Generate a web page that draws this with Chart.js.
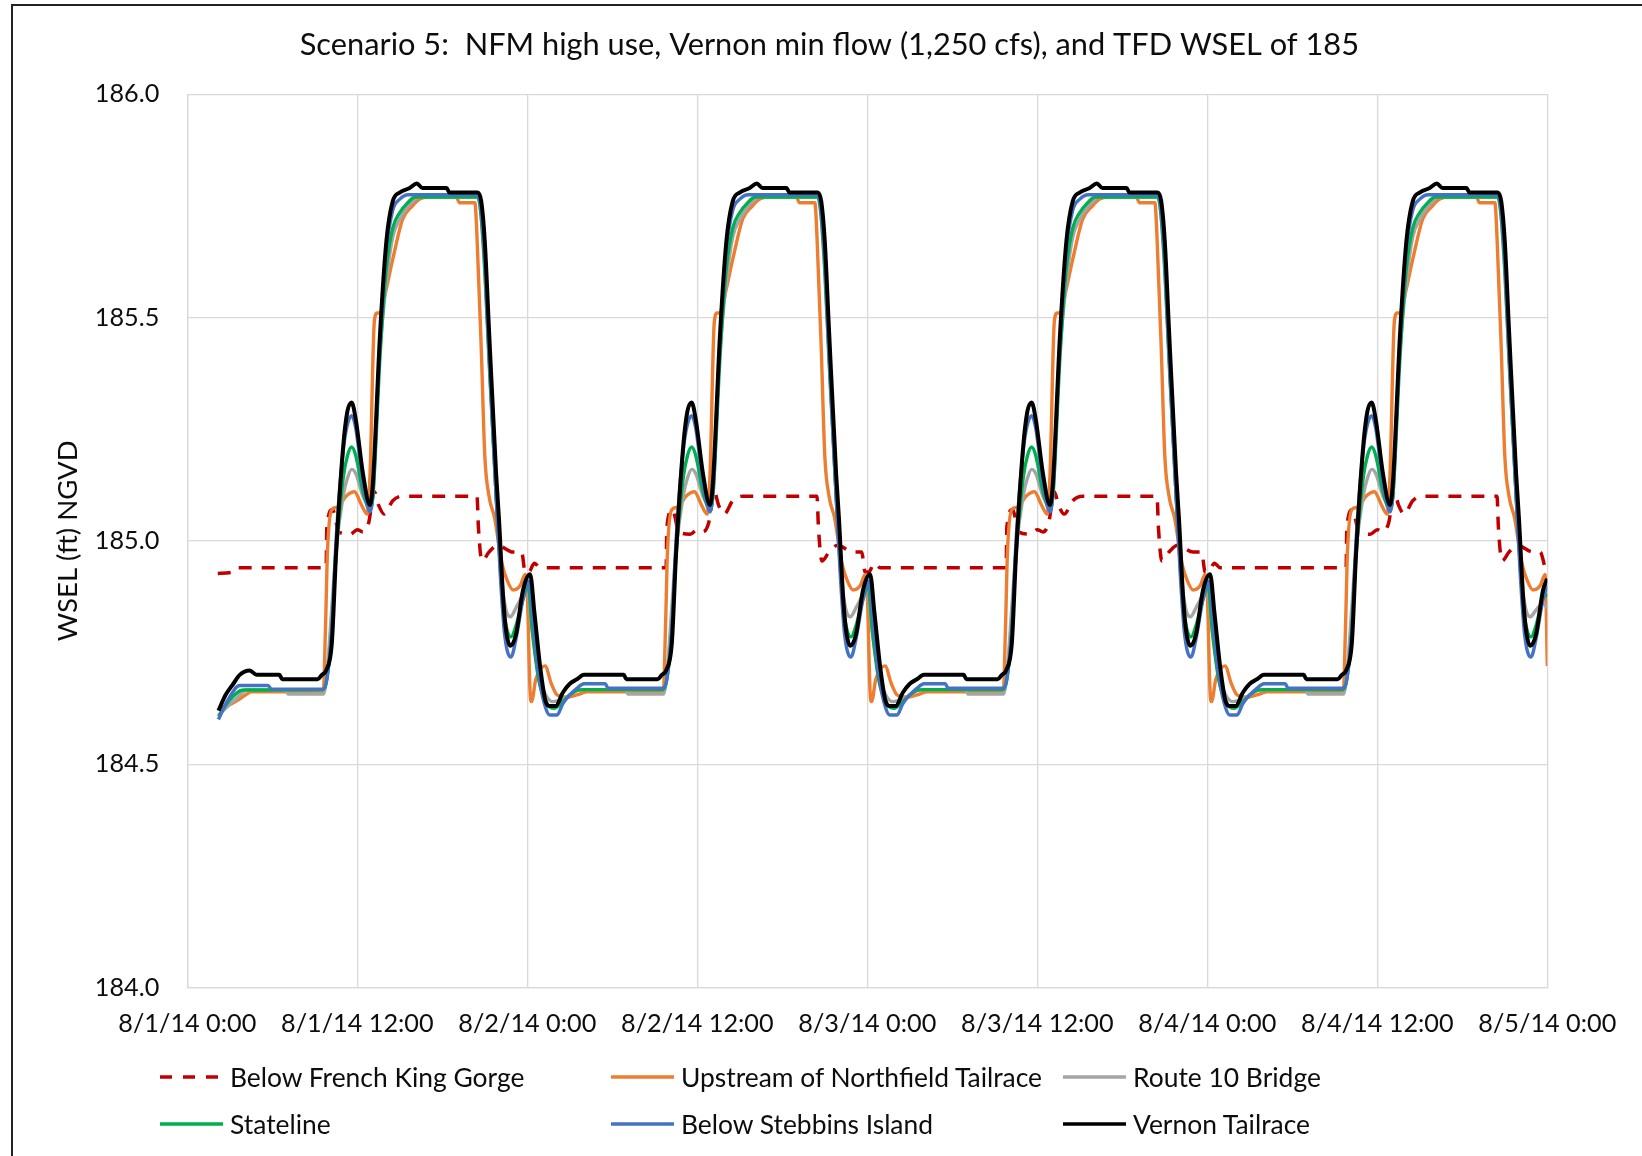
<!DOCTYPE html>
<html>
<head>
<meta charset="utf-8">
<title>Scenario 5 WSEL</title>
<script src="https://cdn.jsdelivr.net/npm/chart.js@4.4.1/dist/chart.umd.min.js"></script>
<style>
  html, body { margin: 0; padding: 0; background: #fff; }
  #wrap { position: relative; width: 1642px; height: 1156px; overflow: hidden; }
  #frame { position: absolute; left: 11px; top: 4px; width: 1700px; height: 1200px;
           border-left: 2px solid #222; border-top: 2px solid #222; pointer-events: none; }
  #chart { position: absolute; left: 0; top: 0; }
  .item { position: absolute; display: flex; align-items: center; white-space: nowrap;
          transform: translateY(-50%); color: #0d0d0d; }
  .item svg { margin-right: 7px; }
</style>
</head>
<body>
<div id="wrap">
  <canvas id="chart" width="1642" height="1156"></canvas>
  <div id="frame"></div>
  <div id="legend"></div>
</div>
<script>
// x axis in hours from 8/1/14 0:00
var tickLabels = ['8/1/14 0:00', '8/1/14 12:00', '8/2/14 0:00', '8/2/14 12:00', '8/3/14 0:00',
                  '8/3/14 12:00', '8/4/14 0:00', '8/4/14 12:00', '8/5/14 0:00'];

// [hour, WSEL ft NGVD]
var belowFrenchKingGorge = [
  [2.15,184.927],[3.2,184.93],[3.5,184.94],[9.8,184.94],[9.85,185.03],[10.25,185.07],[10.7,185.02],[11.5,185.015],[12,185.025],[12.4,185.02],[12.8,185.04],[13.2,185.11],[13.5,185.08],[13.9,185.06],[14.5,185.09],[15.2,185.1],[20.45,185.1],[20.55,185.03],[20.8,184.955],[21.3,184.975],[21.9,184.99],[23,184.975],[23.6,184.975],[23.85,184.93],
  [24.1,184.93],[24.5,184.95],[24.9,184.94],[33.8,184.94],[33.85,185.03],[34.25,185.07],[34.7,185.02],[35.5,185.015],[36,185.025],[36.4,185.02],[36.8,185.04],[37.2,185.11],[37.5,185.08],[37.9,185.06],[38.5,185.09],[39.2,185.1],[44.45,185.1],[44.55,185.03],[44.8,184.955],[45.3,184.975],[45.9,184.99],[47,184.975],[47.6,184.975],[47.85,184.93],
  [48.1,184.93],[48.5,184.95],[48.9,184.94],[57.8,184.94],[57.85,185.03],[58.25,185.07],[58.7,185.02],[59.5,185.015],[60,185.025],[60.4,185.02],[60.8,185.04],[61.2,185.11],[61.5,185.08],[61.9,185.06],[62.5,185.09],[63.2,185.1],[68.45,185.1],[68.55,185.03],[68.8,184.955],[69.3,184.975],[69.9,184.99],[71,184.975],[71.6,184.975],[71.85,184.93],
  [72.1,184.93],[72.5,184.95],[72.9,184.94],[81.8,184.94],[81.85,185.03],[82.25,185.07],[82.7,185.02],[83.5,185.015],[84,185.025],[84.4,185.02],[84.8,185.04],[85.2,185.11],[85.5,185.08],[85.9,185.06],[86.5,185.09],[87.2,185.1],[92.45,185.1],[92.55,185.03],[92.8,184.955],[93.3,184.975],[93.9,184.99],[95,184.975],[95.5,184.975],[95.85,184.94],[96,184.93]
];

var upstreamNorthfieldTailrace = [
  [2.2,184.625],[2.6,184.628],[3,184.633],[3.6,184.644],[4.2,184.657],[4.5,184.662],[9.6,184.662],[9.75,184.8],[9.9,184.98],[10.2,185.07],[10.6,185.075],[11.2,185.1],[11.8,185.11],[12.3,185.08],[12.7,185.06],[12.9,185.15],[13.2,185.49],[13.4,185.51],[13.6,185.51],[13.8,185.53],[14.5,185.63],[15.2,185.72],[15.9,185.75],[16.4,185.765],[17,185.77],[19,185.77],[19.2,185.757],[20.3,185.757],[20.45,185.68],[20.75,185.43],[21,185.19],[21.3,185.1],[21.7,185.05],[22.2,184.95],[22.6,184.91],[23,184.89],[23.5,184.9],[23.85,184.925],
  [24,184.88],[24.2,184.66],[24.3,184.64],[24.6,184.69],[25.25,184.72],[25.7,184.68],[26.1,184.655],[26.8,184.65],[27.5,184.655],[28.2,184.662],[33.6,184.662],[33.75,184.8],[33.9,184.98],[34.2,185.07],[34.6,185.075],[35.2,185.1],[35.8,185.11],[36.3,185.08],[36.7,185.06],[36.9,185.15],[37.2,185.49],[37.4,185.51],[37.6,185.51],[37.8,185.53],[38.5,185.63],[39.2,185.72],[39.9,185.75],[40.4,185.765],[41,185.77],[43,185.77],[43.2,185.757],[44.3,185.757],[44.45,185.68],[44.75,185.43],[45,185.19],[45.3,185.1],[45.7,185.05],[46.2,184.95],[46.6,184.91],[47,184.89],[47.5,184.9],[47.85,184.925],
  [48,184.88],[48.2,184.66],[48.3,184.64],[48.6,184.69],[49.25,184.72],[49.7,184.68],[50.1,184.655],[50.8,184.65],[51.5,184.655],[52.2,184.662],[57.6,184.662],[57.75,184.8],[57.9,184.98],[58.2,185.07],[58.6,185.075],[59.2,185.1],[59.8,185.11],[60.3,185.08],[60.7,185.06],[60.9,185.15],[61.2,185.49],[61.4,185.51],[61.6,185.51],[61.8,185.53],[62.5,185.63],[63.2,185.72],[63.9,185.75],[64.4,185.765],[65,185.77],[67,185.77],[67.2,185.757],[68.3,185.757],[68.45,185.68],[68.75,185.43],[69,185.19],[69.3,185.1],[69.7,185.05],[70.2,184.95],[70.6,184.91],[71,184.89],[71.5,184.9],[71.85,184.925],
  [72,184.88],[72.2,184.66],[72.3,184.64],[72.6,184.69],[73.25,184.72],[73.7,184.68],[74.1,184.655],[74.8,184.65],[75.5,184.655],[76.2,184.662],[81.6,184.662],[81.75,184.8],[81.9,184.98],[82.2,185.07],[82.6,185.075],[83.2,185.1],[83.8,185.11],[84.3,185.08],[84.7,185.06],[84.9,185.15],[85.2,185.49],[85.4,185.51],[85.6,185.51],[85.8,185.53],[86.5,185.63],[87.2,185.72],[87.9,185.75],[88.4,185.765],[89,185.77],[91,185.77],[91.2,185.757],[92.3,185.757],[92.45,185.68],[92.75,185.43],[93,185.19],[93.3,185.1],[93.7,185.05],[94.2,184.95],[94.6,184.91],[95,184.89],[95.5,184.9],[95.85,184.925],[96,184.72]
];

var route10Bridge = [
  [2.2,184.61],[3.5,184.648],[4.2,184.666],[7,184.666],[7.1,184.657],[9.6,184.657],[9.85,184.7],[10.2,184.85],[10.5,184.98],[11,185.1],[11.3,185.14],[11.6,185.16],[11.9,185.15],[12.4,185.1],[12.9,185.08],[13.1,185.1],[13.5,185.38],[14.05,185.58],[14.5,185.68],[15,185.72],[15.5,185.745],[16.4,185.77],[20.5,185.77],[20.7,185.74],[21,185.6],[21.3,185.4],[21.8,185.1],[22.1,184.95],[22.4,184.86],[22.8,184.83],[23.2,184.85],[23.7,184.88],
  [24,184.895],[24.3,184.81],[24.8,184.7],[25.3,184.655],[25.8,184.64],[26.5,184.645],[27,184.655],[27.5,184.665],[28,184.667],[31,184.667],[31.1,184.657],[33.6,184.657],[33.85,184.7],[34.2,184.85],[34.5,184.98],[35,185.1],[35.3,185.14],[35.6,185.16],[35.9,185.15],[36.4,185.1],[36.9,185.08],[37.1,185.1],[37.5,185.38],[38.05,185.58],[38.5,185.68],[39,185.72],[39.5,185.745],[40.4,185.77],[44.5,185.77],[44.7,185.74],[45,185.6],[45.3,185.4],[45.8,185.1],[46.1,184.95],[46.4,184.86],[46.8,184.83],[47.2,184.85],[47.7,184.88],
  [48,184.895],[48.3,184.81],[48.8,184.7],[49.3,184.655],[49.8,184.64],[50.5,184.645],[51,184.655],[51.5,184.665],[52,184.667],[55,184.667],[55.1,184.657],[57.6,184.657],[57.85,184.7],[58.2,184.85],[58.5,184.98],[59,185.1],[59.3,185.14],[59.6,185.16],[59.9,185.15],[60.4,185.1],[60.9,185.08],[61.1,185.1],[61.5,185.38],[62.05,185.58],[62.5,185.68],[63,185.72],[63.5,185.745],[64.4,185.77],[68.5,185.77],[68.7,185.74],[69,185.6],[69.3,185.4],[69.8,185.1],[70.1,184.95],[70.4,184.86],[70.8,184.83],[71.2,184.85],[71.7,184.88],
  [72,184.895],[72.3,184.81],[72.8,184.7],[73.3,184.655],[73.8,184.64],[74.5,184.645],[75,184.655],[75.5,184.665],[76,184.667],[79,184.667],[79.1,184.657],[81.6,184.657],[81.85,184.7],[82.2,184.85],[82.5,184.98],[83,185.1],[83.3,185.14],[83.6,185.16],[83.9,185.15],[84.4,185.1],[84.9,185.08],[85.1,185.1],[85.5,185.38],[86.05,185.58],[86.5,185.68],[87,185.72],[87.5,185.745],[88.4,185.77],[92.5,185.77],[92.7,185.74],[93,185.6],[93.3,185.4],[93.8,185.1],[94.1,184.95],[94.4,184.86],[94.8,184.83],[95.2,184.845],[95.7,184.86],[96,184.85]
];

var stateline = [
  [2.2,184.607],[3,184.644],[3.95,184.666],[9.6,184.667],[9.85,184.69],[10.2,184.8],[10.5,184.97],[11,185.14],[11.3,185.19],[11.6,185.21],[11.9,185.19],[12.4,185.11],[12.9,185.07],[13.1,185.1],[13.6,185.41],[14.05,185.61],[14.5,185.7],[15,185.735],[15.5,185.755],[16.1,185.77],[20.5,185.77],[20.7,185.74],[21,185.61],[21.3,185.41],[21.8,185.1],[22.1,184.94],[22.4,184.83],[22.85,184.785],[23.2,184.81],[23.7,184.87],
  [24.05,184.9],[24.35,184.8],[24.8,184.69],[25.4,184.635],[25.9,184.625],[26.5,184.64],[27,184.655],[27.5,184.665],[28,184.667],[33.6,184.667],[33.85,184.69],[34.2,184.8],[34.5,184.97],[35,185.14],[35.3,185.19],[35.6,185.21],[35.9,185.19],[36.4,185.11],[36.9,185.07],[37.1,185.1],[37.6,185.41],[38.05,185.61],[38.5,185.7],[39,185.735],[39.5,185.755],[40.1,185.77],[44.5,185.77],[44.7,185.74],[45,185.61],[45.3,185.41],[45.8,185.1],[46.1,184.94],[46.4,184.83],[46.85,184.785],[47.2,184.81],[47.7,184.87],
  [48.05,184.9],[48.35,184.8],[48.8,184.69],[49.4,184.635],[49.9,184.625],[50.5,184.64],[51,184.655],[51.5,184.665],[52,184.667],[57.6,184.667],[57.85,184.69],[58.2,184.8],[58.5,184.97],[59,185.14],[59.3,185.19],[59.6,185.21],[59.9,185.19],[60.4,185.11],[60.9,185.07],[61.1,185.1],[61.6,185.41],[62.05,185.61],[62.5,185.7],[63,185.735],[63.5,185.755],[64.1,185.77],[68.5,185.77],[68.7,185.74],[69,185.61],[69.3,185.41],[69.8,185.1],[70.1,184.94],[70.4,184.83],[70.85,184.785],[71.2,184.81],[71.7,184.87],
  [72.05,184.9],[72.35,184.8],[72.8,184.69],[73.4,184.635],[73.9,184.625],[74.5,184.64],[75,184.655],[75.5,184.665],[76,184.667],[81.6,184.667],[81.85,184.69],[82.2,184.8],[82.5,184.97],[83,185.14],[83.3,185.19],[83.6,185.21],[83.9,185.19],[84.4,185.11],[84.9,185.07],[85.1,185.1],[85.6,185.41],[86.05,185.61],[86.5,185.7],[87,185.735],[87.5,185.755],[88.1,185.77],[92.5,185.77],[92.7,185.74],[93,185.61],[93.3,185.41],[93.8,185.1],[94.1,184.94],[94.4,184.83],[94.85,184.785],[95.2,184.81],[95.7,184.87],[96,184.88]
];

var belowStebbinsIsland = [
  [2.2,184.6],[2.8,184.64],[3.7,184.676],[5.7,184.676],[5.95,184.668],[9.6,184.668],[9.85,184.69],[10.2,184.8],[10.5,185],[11,185.2],[11.3,185.26],[11.6,185.28],[11.9,185.25],[12.4,185.13],[12.9,185.065],[13.1,185.11],[13.6,185.44],[14.05,185.65],[14.5,185.74],[15,185.765],[15.6,185.775],[20.5,185.775],[20.7,185.75],[21,185.63],[21.3,185.42],[21.8,185.1],[22.1,184.92],[22.4,184.79],[22.85,184.74],[23.2,184.78],[23.7,184.87],
  [24.1,184.91],[24.4,184.82],[24.8,184.7],[25.3,184.625],[25.6,184.61],[26.1,184.61],[26.5,184.635],[27,184.655],[27.5,184.67],[28,184.68],[29.5,184.68],[29.7,184.67],[33.6,184.67],[33.85,184.69],[34.2,184.8],[34.5,185],[35,185.2],[35.3,185.26],[35.6,185.28],[35.9,185.25],[36.4,185.13],[36.9,185.065],[37.1,185.11],[37.6,185.44],[38.05,185.65],[38.5,185.74],[39,185.765],[39.6,185.775],[44.5,185.775],[44.7,185.75],[45,185.63],[45.3,185.42],[45.8,185.1],[46.1,184.92],[46.4,184.79],[46.85,184.74],[47.2,184.78],[47.7,184.87],
  [48.1,184.91],[48.4,184.82],[48.8,184.7],[49.3,184.625],[49.6,184.61],[50.1,184.61],[50.5,184.635],[51,184.655],[51.5,184.67],[52,184.68],[53.5,184.68],[53.7,184.67],[57.6,184.67],[57.85,184.69],[58.2,184.8],[58.5,185],[59,185.2],[59.3,185.26],[59.6,185.28],[59.9,185.25],[60.4,185.13],[60.9,185.065],[61.1,185.11],[61.6,185.44],[62.05,185.65],[62.5,185.74],[63,185.765],[63.6,185.775],[68.5,185.775],[68.7,185.75],[69,185.63],[69.3,185.42],[69.8,185.1],[70.1,184.92],[70.4,184.79],[70.85,184.74],[71.2,184.78],[71.7,184.87],
  [72.1,184.91],[72.4,184.82],[72.8,184.7],[73.3,184.625],[73.6,184.61],[74.1,184.61],[74.5,184.635],[75,184.655],[75.5,184.67],[76,184.68],[77.5,184.68],[77.7,184.67],[81.6,184.67],[81.85,184.69],[82.2,184.8],[82.5,185],[83,185.2],[83.3,185.26],[83.6,185.28],[83.9,185.25],[84.4,185.13],[84.9,185.065],[85.1,185.11],[85.6,185.44],[86.05,185.65],[86.5,185.74],[87,185.765],[87.6,185.775],[92.5,185.775],[92.7,185.75],[93,185.63],[93.3,185.42],[93.8,185.1],[94.1,184.92],[94.4,184.79],[94.85,184.74],[95.2,184.78],[95.7,184.87],[96,184.9]
];

var vernonTailrace = [
  [2.2,184.62],[2.7,184.655],[3.25,184.68],[3.7,184.7],[4.4,184.71],[4.9,184.7],[6.5,184.7],[6.7,184.69],[9.2,184.69],[9.5,184.7],[9.8,184.71],[10.2,184.77],[10.5,184.97],[11,185.21],[11.3,185.29],[11.6,185.31],[11.9,185.27],[12.4,185.15],[12.9,185.08],[13.1,185.13],[13.6,185.46],[14.05,185.67],[14.5,185.76],[15,185.78],[15.7,185.79],[16.2,185.8],[16.6,185.79],[18.3,185.79],[18.5,185.78],[20.5,185.78],[20.75,185.76],[21,185.67],[21.3,185.47],[21.8,185.15],[22,185.05],[22.3,184.87],[22.5,184.8],[22.8,184.765],[23.2,184.79],[23.7,184.89],
  [24.2,184.925],[24.5,184.84],[24.9,184.72],[25.3,184.64],[25.6,184.63],[26,184.63],[26.5,184.66],[27,184.68],[27.5,184.69],[28,184.7],[30.8,184.7],[31,184.69],[33.2,184.69],[33.5,184.7],[33.8,184.71],[34.2,184.77],[34.5,184.97],[35,185.21],[35.3,185.29],[35.6,185.31],[35.9,185.27],[36.4,185.15],[36.9,185.08],[37.1,185.13],[37.6,185.46],[38.05,185.67],[38.5,185.76],[39,185.78],[39.7,185.79],[40.2,185.8],[40.6,185.79],[42.3,185.79],[42.5,185.78],[44.5,185.78],[44.75,185.76],[45,185.67],[45.3,185.47],[45.8,185.15],[46,185.05],[46.3,184.87],[46.5,184.8],[46.8,184.765],[47.2,184.79],[47.7,184.89],
  [48.2,184.925],[48.5,184.84],[48.9,184.72],[49.3,184.64],[49.6,184.63],[50,184.63],[50.5,184.66],[51,184.68],[51.5,184.69],[52,184.7],[54.8,184.7],[55,184.69],[57.2,184.69],[57.5,184.7],[57.8,184.71],[58.2,184.77],[58.5,184.97],[59,185.21],[59.3,185.29],[59.6,185.31],[59.9,185.27],[60.4,185.15],[60.9,185.08],[61.1,185.13],[61.6,185.46],[62.05,185.67],[62.5,185.76],[63,185.78],[63.7,185.79],[64.2,185.8],[64.6,185.79],[66.3,185.79],[66.5,185.78],[68.5,185.78],[68.75,185.76],[69,185.67],[69.3,185.47],[69.8,185.15],[70,185.05],[70.3,184.87],[70.5,184.8],[70.8,184.765],[71.2,184.79],[71.7,184.89],
  [72.2,184.925],[72.5,184.84],[72.9,184.72],[73.3,184.64],[73.6,184.63],[74,184.63],[74.5,184.66],[75,184.68],[75.5,184.69],[76,184.7],[78.8,184.7],[79,184.69],[81.2,184.69],[81.5,184.7],[81.8,184.71],[82.2,184.77],[82.5,184.97],[83,185.21],[83.3,185.29],[83.6,185.31],[83.9,185.27],[84.4,185.15],[84.9,185.08],[85.1,185.13],[85.6,185.46],[86.05,185.67],[86.5,185.76],[87,185.78],[87.7,185.79],[88.2,185.8],[88.6,185.79],[90.3,185.79],[90.5,185.78],[92.5,185.78],[92.75,185.76],[93,185.67],[93.3,185.47],[93.8,185.15],[94,185.05],[94.3,184.87],[94.5,184.8],[94.8,184.765],[95.2,184.79],[95.7,184.89],[96,184.915]
];

var FONT = 'Lato';
var TEXT = '#0d0d0d';
var GRID = '#d9d9d9';

// pick a font size so a string spans the width it has in the picture
var measure = document.createElement('canvas').getContext('2d');
function fitSize(str, width) {
  measure.font = '100px ' + FONT;
  return 100 * width / measure.measureText(str).width;
}

var titleText = 'Scenario 5:  NFM high use, Vernon min flow (1,250 cfs), and TFD WSEL of 185';
var titleSize = fitSize(titleText, 1060);
var tickSize = fitSize('8/1/14 0:00', 138);
var axisTitleSize = fitSize('WSEL (ft) NGVD', 201);
var legendSize = fitSize('Below French King Gorge', 295);

// plot area edges in page pixels
var PLOT_LEFT = 187.3, PLOT_RIGHT = 1547.3, PLOT_TOP = 94.2, PLOT_BOTTOM = 987.5;
var PAD_LEFT = 111.5; // keeps the title centred where the original has it

function pts(arr) {
  return arr.map(function (p) { return { x: p[0], y: p[1] }; });
}

function line(label, arr, color, width, order, dash) {
  return {
    label: label,
    data: pts(arr),
    borderColor: color,
    backgroundColor: color,
    borderWidth: width,
    borderDash: dash || [],
    order: order,
    fill: false
  };
}

// widen the y axis box back to the canvas edge after layout, so its labels are not clipped
var yAxisToEdge = {
  id: 'yAxisToEdge',
  afterLayout: function (chart) {
    var y = chart.scales.y;
    y.left = 0;
    y.width = y.right - y.left;
  }
};

var chart = new Chart(document.getElementById('chart'), {
  type: 'line',
  data: {
    datasets: [
      line('Below French King Gorge', belowFrenchKingGorge, '#C00000', 3.5, 6, [13, 10]),
      line('Upstream of Northfield Tailrace', upstreamNorthfieldTailrace, '#ED7D31', 3.4, 5),
      line('Route 10 Bridge', route10Bridge, '#A5A5A5', 3.4, 4),
      line('Stateline', stateline, '#00B050', 3.4, 3),
      line('Below Stebbins Island', belowStebbinsIsland, '#4472C4', 3.4, 2),
      line('Vernon Tailrace', vernonTailrace, '#000000', 4, 1)
    ]
  },
  plugins: [yAxisToEdge],
  options: {
    responsive: false,
    animation: false,
    devicePixelRatio: 1,
    layout: { padding: { top: 0, left: PAD_LEFT, right: 1642 - PLOT_RIGHT, bottom: 0 } },
    elements: {
      point: { radius: 0, hoverRadius: 0 },
      line: { cubicInterpolationMode: 'monotone', borderJoinStyle: 'round', borderCapStyle: 'butt' }
    },
    plugins: {
      legend: { display: false },
      tooltip: { enabled: false },
      title: {
        display: true,
        text: titleText,
        color: TEXT,
        font: { family: FONT, size: titleSize, weight: 'normal' },
        padding: { top: 45 - 0.6 * titleSize, bottom: PLOT_TOP - (45 - 0.6 * titleSize) - 1.2 * titleSize }
      }
    },
    scales: {
      x: {
        type: 'linear',
        min: 0,
        max: 96,
        grid: { color: GRID, lineWidth: 1.3, drawTicks: false },
        border: { color: GRID, width: 1.3 },
        ticks: {
          stepSize: 12,
          autoSkip: false,
          maxRotation: 0,
          color: TEXT,
          padding: 1024 - PLOT_BOTTOM - 0.6 * tickSize,
          font: { family: FONT, size: tickSize },
          callback: function (v) { return tickLabels[Math.round(v / 12)]; }
        },
        afterFit: function (s) { s.height = 1156 - PLOT_BOTTOM; }
      },
      y: {
        min: 184,
        max: 186,
        grid: { color: GRID, lineWidth: 1.3, drawTicks: false },
        border: { color: GRID, width: 1.3 },
        ticks: {
          stepSize: 0.5,
          color: TEXT,
          padding: 28,
          font: { family: FONT, size: tickSize },
          callback: function (v) { return v.toFixed(1); }
        },
        title: {
          display: true,
          text: 'WSEL (ft) NGVD',
          color: TEXT,
          font: { family: FONT, size: axisTitleSize },
          padding: { top: 68 - 0.6 * axisTitleSize, bottom: 0 }
        },
        afterFit: function (s) { s.width = PLOT_LEFT - PAD_LEFT; }
      }
    }
  }
});

// legend laid out in three columns like the original
var legendCols = [160, 611, 1063];
var legendRows = [1077, 1124];
var legendBox = document.getElementById('legend');
chart.data.datasets.forEach(function (ds, i) {
  var item = document.createElement('div');
  item.className = 'item';
  item.style.left = legendCols[i % 3] + 'px';
  item.style.top = legendRows[Math.floor(i / 3)] + 'px';
  item.style.font = legendSize + 'px ' + FONT;
  var dash = ds.borderDash.length ? ' stroke-dasharray="12 11"' : '';
  item.innerHTML = '<svg width="63" height="10"><line x1="0" y1="5" x2="63" y2="5" stroke="' +
    ds.borderColor + '" stroke-width="' + Math.min(ds.borderWidth, 3.5) + '"' + dash + '/></svg>' +
    '<span>' + ds.label + '</span>';
  legendBox.appendChild(item);
});
</script>
</body>
</html>
